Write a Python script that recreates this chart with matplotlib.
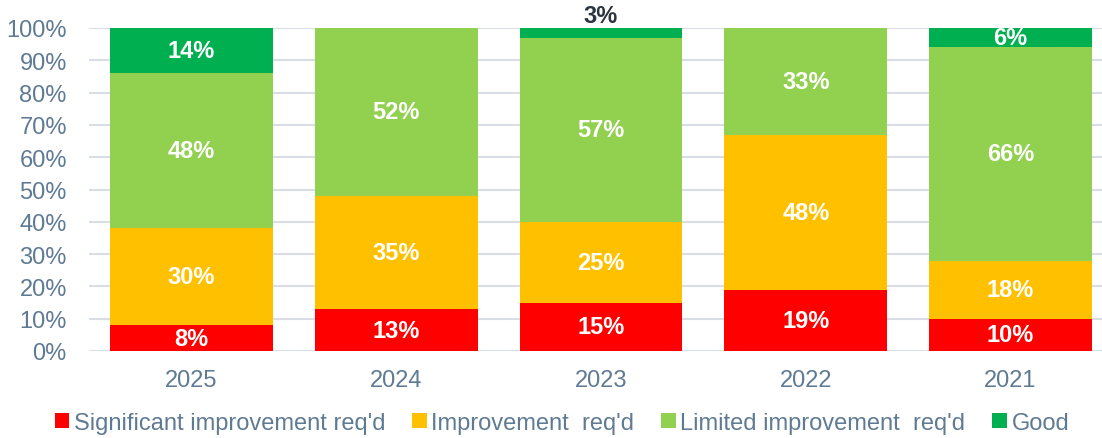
import matplotlib
matplotlib.use("Agg")
from matplotlib import pyplot as plt
from matplotlib.patches import Patch
import numpy as np

plt.rcParams['font.family'] = ['Liberation Sans', 'DejaVu Sans']

years = ['2025', '2024', '2023', '2022', '2021']
series_names = ["Significant improvement req'd", "Improvement  req'd",
                "Limited improvement  req'd", "Good"]
significant = [8, 13, 15, 19, 10]
improvement = [30, 35, 25, 48, 18]
limited = [48, 52, 57, 33, 66]
good = [14, 0, 3, 0, 6]
colors = ['#FF0000', '#FFC000', '#92D050', '#00B050']

text_col = '#5F7A93'
grid_col = '#D9DEE4'

fig = plt.figure(figsize=(11.02, 4.39), dpi=100)
W, H = 1102, 439
ax = fig.add_axes([89 / W, 1 - 352 / H, (1113 - 89) / W, (352 - 29) / H])

x = np.arange(len(years))
bottom = np.zeros(len(years))
for vals, name, col in zip([significant, improvement, limited, good], series_names, colors):
    vals = np.array(vals, dtype=float)
    ax.bar(x, vals, 0.795, bottom=bottom, color=col, label=name, zorder=3)
    for xi, v, b in zip(x, vals, bottom):
        if v <= 0:
            continue
        if v < 5:
            ax.text(xi, b + v + 0.2, f"{int(v)}%", ha='center', va='bottom',
                    color='#2B3440', fontsize=17, fontweight='bold', zorder=4)
        else:
            ax.text(xi, b + v / 2, f"{int(v)}%", ha='center', va='center',
                    color='white', fontsize=17, fontweight='bold', zorder=4)
    bottom += vals

ax.set_xlim(-0.5, 4.5)
ax.set_ylim(0, 100)
ax.set_yticks(range(0, 101, 10))
ax.set_yticklabels([f"{v}%" for v in range(0, 101, 10)])
ax.set_xticks(x)
ax.set_xticklabels(years)
ax.tick_params(axis='both', length=0, labelsize=17, labelcolor=text_col)
ax.tick_params(axis='y', pad=16)
ax.tick_params(axis='x', pad=13)
ax.grid(axis='y', color=grid_col, linewidth=1.5, zorder=0)
for s in ax.spines.values():
    s.set_visible(False)

handles = [Patch(facecolor=c, edgecolor='none') for c in colors]
fig.legend(handles, series_names, loc='center', bbox_to_anchor=(562 / W, 1 - 424 / H),
           ncol=4, frameon=False, fontsize=17, labelcolor=text_col,
           handlelength=0.6, handleheight=0.6, handletextpad=0.2, columnspacing=1.15)

fig.savefig('out.png', dpi=100)
